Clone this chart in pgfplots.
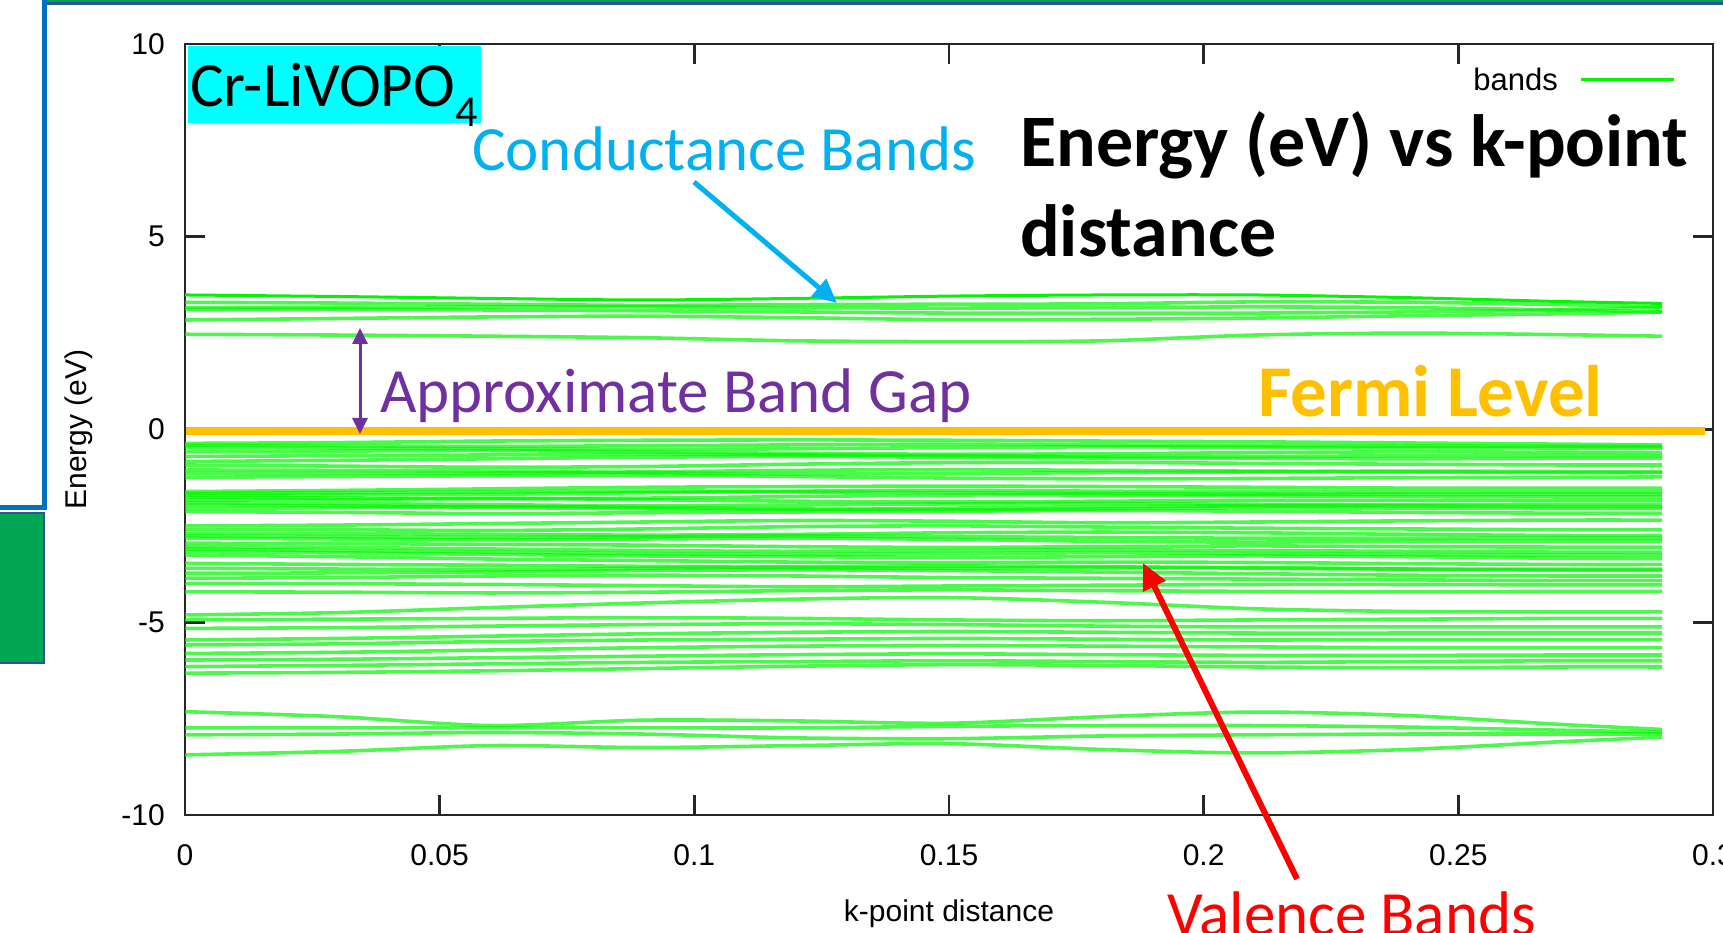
\documentclass[border=0pt]{standalone}
\usepackage{fontspec}
\setmainfont{Carlito}
\newfontfamily\plotfont{Liberation Sans}
\usepackage{pgfplots}
\pgfplotsset{compat=1.18}
\usepackage{pgfplotstable}
\usetikzlibrary{arrows.meta}

\definecolor{bandgreen}{RGB}{0,245,0}
\definecolor{fermigold}{RGB}{255,192,0}
\definecolor{gappurple}{RGB}{112,48,160}
\definecolor{condblue}{RGB}{0,176,240}
\definecolor{valred}{RGB}{255,0,0}
\definecolor{boxcyan}{RGB}{0,255,255}
\definecolor{slideblue}{RGB}{0,112,192}
\definecolor{slidegreen}{RGB}{0,166,81}
\definecolor{slidenavy}{RGB}{47,85,151}

% conduction bands
\pgfplotstableread{
k    c1   c2   c3   c4   c5   c6
0    3.49 3.30 3.16 3.12 2.84 2.47
0.03 3.45 3.28 3.17 3.12 2.88 2.45
0.06 3.40 3.25 3.18 3.10 2.92 2.42
0.09 3.36 3.22 3.18 3.08 2.94 2.38
0.12 3.40 3.24 3.16 3.05 2.90 2.30
0.15 3.46 3.25 3.15 3.02 2.85 2.28
0.18 3.49 3.26 3.16 3.02 2.86 2.30
0.21 3.49 3.31 3.18 3.02 2.89 2.45
0.24 3.42 3.30 3.16 3.05 2.95 2.50
0.27 3.32 3.24 3.10 3.10 3.00 2.46
0.29 3.27 3.18 3.05 3.18 3.05 2.42
}\condtab

% upper valence bands
\pgfplotstableread{
k    v1    v2    v3    v4    v5    v6    v7    v8    v9    v10   v11   v12   v13   v14   v15   v16   v17   v18   v19   v20   v21   v22   v23   v24   v25   v26   v27
0    -0.36 -0.46 -0.58 -0.83 -0.92 -1.05 -1.24 -1.61 -1.70 -1.76 -1.83 -1.90 -2.05 -2.13 -2.50 -2.59 -2.69 -2.82 -2.95 -3.04 -3.17 -3.26 -3.47 -3.73 -3.86 -3.99 -4.21
0.03 -0.34 -0.48 -0.56 -0.80 -0.95 -1.06 -1.22 -1.58 -1.70 -1.78 -1.82 -1.92 -2.03 -2.15 -2.48 -2.60 -2.70 -2.84 -2.96 -3.06 -3.20 -3.30 -3.50 -3.72 -3.84 -4.00 -4.22
0.06 -0.30 -0.50 -0.55 -0.76 -0.98 -1.08 -1.20 -1.54 -1.68 -1.80 -1.78 -1.95 -2.00 -2.18 -2.44 -2.62 -2.72 -2.86 -2.98 -3.10 -3.24 -3.36 -3.52 -3.70 -3.80 -4.02 -4.24
0.09 -0.28 -0.52 -0.58 -0.72 -0.96 -1.12 -1.18 -1.50 -1.64 -1.78 -1.82 -1.98 -2.02 -2.16 -2.40 -2.58 -2.74 -2.84 -3.00 -3.14 -3.28 -3.40 -3.55 -3.66 -3.78 -4.05 -4.22
0.12 -0.27 -0.50 -0.62 -0.70 -0.90 -1.15 -1.22 -1.48 -1.60 -1.74 -1.86 -1.96 -2.06 -2.14 -2.36 -2.52 -2.72 -2.82 -3.04 -3.16 -3.30 -3.44 -3.58 -3.64 -3.80 -4.08 -4.18
0.15 -0.28 -0.47 -0.64 -0.72 -0.86 -1.14 -1.26 -1.47 -1.58 -1.70 -1.88 -1.93 -2.08 -2.12 -2.38 -2.50 -2.68 -2.85 -3.06 -3.14 -3.32 -3.46 -3.60 -3.66 -3.84 -4.06 -4.16
0.18 -0.30 -0.45 -0.63 -0.74 -0.85 -1.12 -1.28 -1.48 -1.60 -1.70 -1.86 -1.92 -2.06 -2.10 -2.42 -2.53 -2.66 -2.90 -3.04 -3.12 -3.30 -3.44 -3.58 -3.70 -3.86 -4.04 -4.18
0.21 -0.32 -0.46 -0.60 -0.75 -0.88 -1.10 -1.27 -1.50 -1.62 -1.72 -1.84 -1.94 -2.03 -2.12 -2.40 -2.56 -2.68 -2.92 -3.02 -3.14 -3.28 -3.45 -3.58 -3.74 -3.88 -4.02 -4.20
0.24 -0.35 -0.47 -0.58 -0.76 -0.90 -1.08 -1.25 -1.52 -1.62 -1.74 -1.84 -1.95 -2.04 -2.15 -2.37 -2.58 -2.72 -2.90 -3.04 -3.16 -3.30 -3.48 -3.62 -3.78 -3.90 -4.02 -4.21
0.27 -0.38 -0.48 -0.59 -0.75 -0.92 -1.09 -1.24 -1.52 -1.62 -1.75 -1.85 -1.95 -2.05 -2.17 -2.35 -2.60 -2.75 -2.90 -3.05 -3.18 -3.34 -3.50 -3.65 -3.80 -3.92 -4.03 -4.20
0.29 -0.40 -0.48 -0.60 -0.75 -0.92 -1.10 -1.23 -1.52 -1.62 -1.75 -1.85 -1.95 -2.05 -2.17 -2.35 -2.60 -2.75 -2.90 -3.05 -3.18 -3.35 -3.50 -3.65 -3.80 -3.92 -4.03 -4.20
}\valtab

% extra bands inside the dense valence block
\pgfplotstableread{
k    w1    w2    w3    w4    w5    w6    w7    w8
0    -0.41 -0.70 -1.14 -1.66 -1.96 -2.76 -3.10 -3.60
0.03 -0.42 -0.68 -1.14 -1.64 -1.98 -2.78 -3.14 -3.62
0.06 -0.44 -0.66 -1.13 -1.62 -2.02 -2.80 -3.18 -3.64
0.09 -0.42 -0.64 -1.10 -1.60 -2.06 -2.78 -3.22 -3.60
0.12 -0.40 -0.66 -1.06 -1.62 -2.08 -2.76 -3.24 -3.56
0.15 -0.38 -0.68 -1.04 -1.64 -2.04 -2.78 -3.22 -3.54
0.18 -0.40 -0.70 -1.06 -1.66 -2.00 -2.80 -3.20 -3.56
0.21 -0.42 -0.70 -1.08 -1.68 -1.98 -2.82 -3.22 -3.60
0.24 -0.43 -0.68 -1.10 -1.68 -1.98 -2.82 -3.24 -3.62
0.27 -0.44 -0.68 -1.12 -1.68 -2.00 -2.82 -3.26 -3.62
0.29 -0.44 -0.68 -1.12 -1.68 -2.00 -2.82 -3.26 -3.62
}\valextra

% middle valence bands
\pgfplotstableread{
k    n1    n2    n3    n4    n5    n6    n7    n8    n9
0    -4.81 -4.94 -5.16 -5.46 -5.59 -5.81 -5.98 -6.15 -6.32
0.03 -4.75 -4.92 -5.14 -5.42 -5.56 -5.78 -5.96 -6.12 -6.30
0.06 -4.62 -4.90 -5.10 -5.36 -5.50 -5.72 -5.92 -6.08 -6.26
0.09 -4.50 -4.88 -5.06 -5.30 -5.46 -5.66 -5.88 -6.04 -6.20
0.12 -4.40 -4.90 -5.04 -5.26 -5.44 -5.62 -5.84 -6.02 -6.14
0.15 -4.36 -4.94 -5.06 -5.24 -5.42 -5.60 -5.82 -6.00 -6.10
0.18 -4.48 -4.96 -5.10 -5.26 -5.44 -5.62 -5.84 -6.02 -6.12
0.21 -4.65 -4.94 -5.12 -5.28 -5.46 -5.64 -5.86 -6.04 -6.16
0.24 -4.72 -4.92 -5.12 -5.28 -5.45 -5.66 -5.86 -6.02 -6.18
0.27 -4.73 -4.90 -5.12 -5.28 -5.45 -5.66 -5.85 -6.00 -6.16
0.29 -4.73 -4.90 -5.12 -5.28 -5.45 -5.66 -5.85 -6.00 -6.16
}\midtab

% deep valence bands
\pgfplotstableread{
k    d1    d2    d3    d4
0    -7.32 -7.74 -7.92 -8.44
0.03 -7.45 -7.74 -7.90 -8.35
0.06 -7.68 -7.74 -7.86 -8.20
0.09 -7.54 -7.74 -7.90 -8.25
0.12 -7.56 -7.74 -8.00 -8.20
0.15 -7.62 -7.70 -8.02 -8.15
0.18 -7.45 -7.68 -7.95 -8.30
0.21 -7.33 -7.68 -7.92 -8.39
0.24 -7.42 -7.72 -7.90 -8.30
0.27 -7.65 -7.80 -7.90 -8.10
0.29 -7.78 -7.85 -7.90 -7.98
}\deeptab

\begin{document}
\begin{tikzpicture}[x=1pt,y=1pt]
\useasboundingbox (0,0) rectangle (1723,932);
\begin{axis}[
  at={(185pt,117pt)}, anchor=south west,
  scale only axis, width=1528pt, height=771pt,
  xmin=0, xmax=0.3, ymin=-10, ymax=10,
  xtick={0,0.05,0.1,0.15,0.2,0.25,0.3},
  ytick={-10,-5,0,5,10},
  axis line style={line width=2.5pt, black!85},
  major tick length=20pt,
  every tick/.style={line width=2.5pt, black!85},
  tick align=inside,
  /pgf/number format/assume math mode=true,
  ticklabel style={font=\plotfont\fontsize{30}{36}\selectfont, inner sep=0pt},
  xticklabel style={/pgf/number format/fixed, /pgf/number format/precision=2, anchor=center, yshift=-40pt},
  yticklabel style={anchor=east, xshift=-20pt},
  xlabel={k-point distance},
  ylabel={Energy (eV)},
  label style={font=\plotfont\fontsize{30}{36}\selectfont, inner sep=0pt},
  xlabel style={at={(axis description cs:0.5,0)}, anchor=center, yshift=-99pt},
  ylabel style={at={(axis description cs:-0.0694,0.5)}, anchor=center},
  legend style={draw=none, fill=none, at={(axis description cs:1,1)}, anchor=east,
    xshift=-37pt, yshift=-36pt, font=\plotfont\fontsize{31}{36}\selectfont,
    inner sep=0pt, column sep=20pt},
  legend plot pos=right,
  legend image code/.code={\draw[#1] (0pt,0pt) -- (93pt,0pt);},
  band/.style={bandgreen, line width=3.6pt, opacity=0.7, smooth, tension=0.5, no markers},
]
\addplot[band, opacity=1, line width=3pt] table[x=k, y=c1] {\condtab};
\addlegendentry{bands}
\pgfplotsinvokeforeach{2,...,6}{\addplot[band, forget plot] table[x index=0, y index=#1] {\condtab};}
\pgfplotsinvokeforeach{1,...,27}{\addplot[band, forget plot] table[x index=0, y index=#1] {\valtab};}
\pgfplotsinvokeforeach{1,...,8}{\addplot[band, forget plot] table[x index=0, y index=#1] {\valextra};}
\pgfplotsinvokeforeach{1,...,9}{\addplot[band, forget plot] table[x index=0, y index=#1] {\midtab};}
\pgfplotsinvokeforeach{1,...,4}{\addplot[band, forget plot] table[x index=0, y index=#1] {\deeptab};}
\end{axis}

\begin{scope}[shift={(0,932)}, y=-1pt]
  % slide decorations
  \fill[slidegreen] (42,0) rectangle (1723,2);
  \fill[slidenavy] (42,2) rectangle (1723,5);
  \fill[slideblue] (42,0) rectangle (47,510);
  \fill[slideblue] (0,505) rectangle (47,510);
  \fill[slidegreen, draw=slidenavy, line width=1.5pt] (-5,513) rectangle (44,663);
  % Fermi level
  \fill[fermigold] (186,427) rectangle (1705,435);
  % compound box
  \fill[boxcyan] (188,46) rectangle (481,123);
  \node[anchor=base west, inner sep=0pt, font=\fontsize{63}{70}\selectfont] at (190,107) {Cr-LiVOPO\textsubscript{4}};
  % conductance
  \node[anchor=base west, inner sep=0pt, text=condblue, font=\fontsize{63}{70}\selectfont] at (472,171) {Conductance Bands};
  \draw[condblue, line width=5pt, -{Triangle[length=24pt,width=22pt]}] (694,182) -- (837,303);
  % title
  \node[anchor=base west, inner sep=0pt, font=\bfseries\fontsize{74}{80}\selectfont] at (1020,167) {Energy (eV) vs k-point};
  \node[anchor=base west, inner sep=0pt, font=\bfseries\fontsize{74}{80}\selectfont] at (1020,257) {distance};
  % band gap
  \draw[gappurple, line width=3pt, {Triangle[length=16pt,width=15pt]}-{Triangle[length=16pt,width=15pt]}] (360,328) -- (360,434);
  \node[anchor=base west, inner sep=0pt, text=gappurple, font=\fontsize{63}{70}\selectfont] at (380,413) {Approximate Band Gap};
  % Fermi label
  \node[anchor=base west, inner sep=0pt, text=fermigold, font=\bfseries\fontsize{73}{80}\selectfont] at (1258,417) {Fermi Level};
  % valence
  \draw[valred, line width=6pt, -{Triangle[length=26pt,width=24pt]}] (1297,879) -- (1143,563);
  \node[anchor=base west, inner sep=0pt, text=valred, font=\fontsize{63}{70}\selectfont] at (1167,935) {Valence Bands};
\end{scope}
\end{tikzpicture}
\end{document}
